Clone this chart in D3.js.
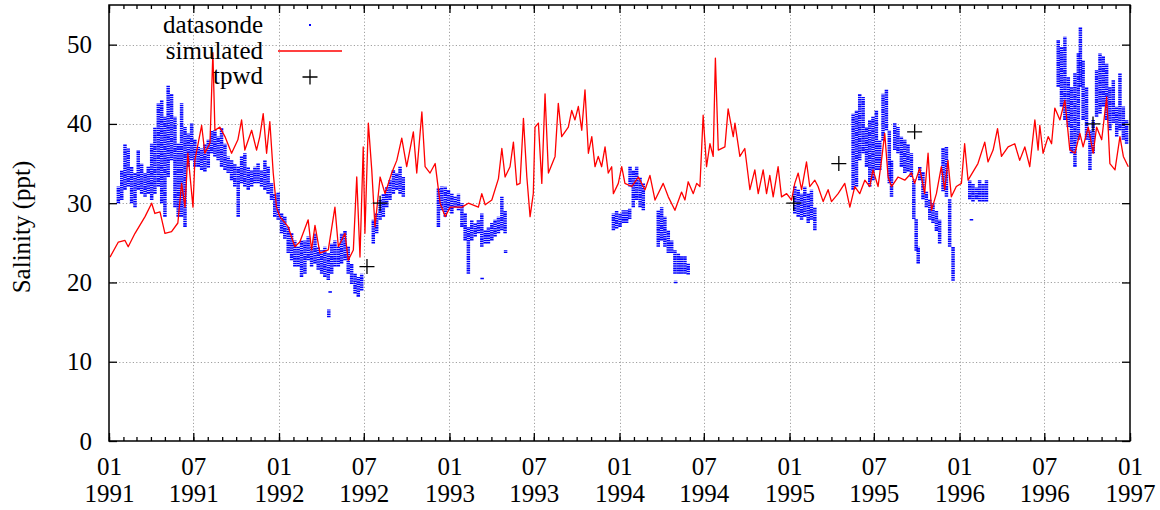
<!DOCTYPE html>
<html>
<head>
<meta charset="utf-8">
<script src="https://cdn.jsdelivr.net/npm/d3@7"></script>
<style>
  html, body { margin: 0; padding: 0; background: #fff; }
  svg text { font-family: "Liberation Serif", "Times New Roman", serif; }
</style>
</head>
<body>
<svg id="chart" width="1160" height="510"></svg>
<script>
// Salinity record 1991-1996. Times are decimal years.

// Simulated salinity (model output)
const simTime = [
  1991.006,1991.055,1991.094,1991.113,1991.153,1991.212,1991.251,1991.270,1991.300,1991.329,
  1991.368,1991.405,1991.427,1991.447,1991.464,1991.494,1991.505,1991.545,1991.564,1991.594,
  1991.611,1991.623,1991.652,1991.682,1991.721,1991.758,1991.780,1991.799,1991.839,1991.868,
  1991.887,1991.907,1991.927,1991.946,1991.966,1991.985,1992.005,1992.054,1992.093,1992.122,
  1992.171,1992.191,1992.211,1992.240,1992.289,1992.328,1992.348,1992.387,1992.406,1992.436,
  1992.456,1992.475,1992.494,1992.504,1992.524,1992.544,1992.563,1992.593,1992.622,1992.661,
  1992.691,1992.720,1992.749,1992.788,1992.808,1992.838,1992.857,1992.886,1992.916,1992.945,
  1992.975,1993.004,1993.073,1993.111,1993.170,1993.190,1993.210,1993.249,1993.288,1993.308,
  1993.327,1993.356,1993.376,1993.396,1993.415,1993.435,1993.455,1993.474,1993.493,1993.503,
  1993.523,1993.543,1993.562,1993.582,1993.621,1993.640,1993.660,1993.699,1993.719,1993.738,
  1993.758,1993.778,1993.797,1993.817,1993.837,1993.856,1993.875,1993.895,1993.915,1993.934,
  1993.954,1993.964,1993.993,1994.013,1994.032,1994.072,1994.111,1994.150,1994.179,1994.209,
  1994.257,1994.287,1994.326,1994.365,1994.385,1994.404,1994.434,1994.454,1994.473,1994.492,
  1994.512,1994.532,1994.551,1994.564,1994.581,1994.620,1994.639,1994.669,1994.679,1994.708,
  1994.737,1994.767,1994.796,1994.816,1994.845,1994.865,1994.884,1994.904,1994.933,1994.953,
  1994.983,1995.012,1995.031,1995.051,1995.071,1995.100,1995.119,1995.149,1995.168,1995.198,
  1995.227,1995.247,1995.286,1995.325,1995.355,1995.384,1995.413,1995.443,1995.472,1995.491,
  1995.521,1995.541,1995.560,1995.580,1995.600,1995.638,1995.678,1995.717,1995.736,1995.766,
  1995.795,1995.815,1995.835,1995.864,1995.893,1995.913,1995.932,1995.952,1995.981,1996.011,
  1996.030,1996.050,1996.108,1996.148,1996.167,1996.197,1996.223,1996.246,1996.285,1996.324,
  1996.353,1996.383,1996.412,1996.442,1996.461,1996.471,1996.490,1996.520,1996.540,1996.559,
  1996.589,1996.618,1996.647,1996.677,1996.706,1996.725,1996.755,1996.784,1996.804,1996.834,
  1996.863,1996.882,1996.912,1996.941,1996.961,1996.990
];
const simSalinity = [
  23.2,25.1,25.3,24.5,26.2,28.3,30.0,28.7,28.9,26.2,
  26.4,27.5,32.5,29.5,36.3,29.5,35.4,39.8,36.3,37.6,
  49.0,39.2,39.6,38.4,36.3,38.0,40.5,36.7,39.2,36.7,
  38.4,41.3,36.3,40.3,33.8,29.5,28.3,27.0,24.5,25.1,
  27.9,24.1,27.2,23.7,24.1,29.5,24.5,26.2,22.8,24.1,
  33.3,23.2,37.1,26.2,40.1,34.2,27.0,33.3,31.2,33.8,
  35.4,38.2,34.6,39.0,33.8,41.5,34.6,33.8,35.0,30.0,
  28.3,29.5,29.5,30.0,29.5,31.2,29.8,30.4,33.1,36.9,
  33.3,34.6,37.7,32.3,32.5,40.7,33.3,28.3,31.2,39.6,
  40.1,32.5,43.8,33.8,35.9,42.6,38.4,39.6,41.7,40.5,
  42.2,39.2,44.3,36.3,38.4,34.6,35.9,34.6,37.1,33.8,
  34.6,31.2,32.5,34.6,32.5,32.1,33.3,31.7,33.5,30.4,
  32.5,30.8,29.1,31.4,30.4,32.7,31.2,32.5,32.1,41.1,
  34.6,37.5,35.9,48.3,36.7,37.1,41.9,38.4,40.1,35.9,
  36.9,31.7,34.2,31.2,34.2,31.2,33.5,30.8,34.6,30.8,
  31.2,30.4,32.5,33.8,31.7,35.2,32.1,32.9,32.1,30.2,
  31.7,30.2,31.2,32.5,29.5,32.1,31.2,32.9,32.1,34.2,
  32.1,35.4,38.8,33.3,32.1,33.3,32.9,33.8,32.5,34.4,
  31.2,36.3,29.1,31.2,34.6,31.7,35.4,30.8,32.1,32.5,
  37.5,32.9,35.0,37.7,35.2,36.7,39.4,35.9,37.1,37.5,
  35.4,37.1,34.6,40.5,36.7,39.8,36.3,38.4,37.5,42.0,
  40.5,43.0,36.7,36.3,38.8,37.1,39.6,36.3,39.6,38.0,
  43.4,35.0,34.2,38.4,35.9,34.6
];

// Datasonde readings, as the low and high of each short reading window
const sondeTime = [
  1991.055,1991.075,1991.094,1991.113,1991.133,1991.153,1991.172,1991.192,1991.212,1991.231,
  1991.251,1991.270,1991.290,1991.310,1991.329,1991.348,1991.368,1991.388,1991.407,1991.427,
  1991.447,1991.466,1991.486,1991.505,1991.525,1991.545,1991.564,1991.584,1991.604,1991.623,
  1991.642,1991.662,1991.682,1991.701,1991.721,1991.740,1991.760,1991.780,1991.799,1991.819,
  1991.839,1991.858,1991.877,1991.897,1991.917,1991.936,1991.956,1991.975,1991.995,1992.015,
  1992.034,1992.054,1992.074,1992.093,1992.112,1992.132,1992.152,1992.171,1992.191,1992.211,
  1992.230,1992.250,1992.269,1992.289,1992.292,1992.300,1992.309,1992.328,1992.348,1992.367,
  1992.387,1992.406,1992.426,1992.446,1992.465,1992.485,1992.553,1992.573,1992.593,1992.612,
  1992.632,1992.651,1992.671,1992.691,1992.710,1992.729,1992.935,1992.955,1992.975,1992.994,
  1993.014,1993.033,1993.053,1993.073,1993.092,1993.111,1993.131,1993.151,1993.170,1993.190,
  1993.192,1993.210,1993.229,1993.249,1993.268,1993.288,1993.308,1993.327,1993.330,1993.964,
  1993.983,1994.003,1994.022,1994.042,1994.060,1994.062,1994.081,1994.101,1994.121,1994.140,
  1994.228,1994.248,1994.267,1994.287,1994.307,1994.326,1994.330,1994.346,1994.365,1994.385,
  1994.404,1995.031,1995.051,1995.071,1995.090,1995.110,1995.129,1995.149,1995.374,1995.394,
  1995.413,1995.433,1995.453,1995.472,1995.491,1995.511,1995.531,1995.550,1995.570,1995.587,
  1995.600,1995.619,1995.638,1995.658,1995.678,1995.697,1995.717,1995.731,1995.745,1995.757,
  1995.766,1995.785,1995.805,1995.825,1995.844,1995.864,1995.883,1995.903,1995.923,1995.942,
  1995.962,1996.060,1996.070,1996.079,1996.099,1996.118,1996.138,1996.158,1996.579,1996.598,
  1996.618,1996.638,1996.657,1996.677,1996.697,1996.709,1996.725,1996.745,1996.765,1996.784,
  1996.804,1996.824,1996.843,1996.863,1996.882,1996.902,1996.922,1996.941,1996.961,1996.980
];
const sondeLow = [
  30.0,30.4,31.7,32.1,30.0,29.5,31.7,31.2,30.8,31.2,
  30.4,31.2,32.1,30.0,28.3,33.3,35.4,29.5,28.3,28.3,
  27.0,34.6,35.4,34.6,34.6,34.2,34.0,34.5,36.3,35.9,
  35.4,34.6,34.2,33.8,32.9,32.1,28.3,32.5,32.1,31.7,
  32.1,32.5,32.5,32.1,31.7,31.2,30.4,28.3,27.9,26.2,
  25.5,23.7,22.8,22.0,22.0,20.7,21.1,22.8,22.0,22.4,
  21.6,21.1,20.7,20.3,15.6,18.7,21.1,22.0,22.0,22.4,
  22.8,21.1,19.8,18.6,18.2,19.0,24.9,26.2,27.9,28.3,
  29.5,30.4,31.2,31.7,31.2,30.8,27.0,29.1,28.3,29.1,
  28.7,29.5,29.1,27.0,25.3,21.1,25.3,25.8,26.2,24.5,
  20.4,24.9,24.9,25.3,25.8,26.2,26.6,26.2,23.7,26.6,
  26.8,27.0,27.5,27.5,28.0,32.1,29.5,30.4,29.5,29.1,
  24.5,25.3,24.5,23.7,23.7,21.1,19.9,21.1,21.1,21.1,
  21.0,28.7,28.3,27.9,28.3,27.5,27.9,26.6,31.7,32.1,
  35.4,36.3,34.6,32.1,32.9,34.2,34.2,37.9,39.2,32.5,
  30.8,36.7,36.3,34.6,33.8,34.0,33.3,28.0,24.0,22.4,
  32.9,30.5,29.5,27.9,27.5,26.5,24.9,31.5,30.8,24.5,
  20.2,30.5,27.8,30.2,30.5,30.2,30.2,30.2,44.7,42.2,
  40.5,39.6,36.3,34.6,38.0,44.7,40.5,38.0,34.2,36.3,
  40.9,41.3,42.2,40.5,39.2,40.1,38.4,39.2,38.0,37.5
];
const sondeHigh = [
  32.1,34.2,37.5,36.9,34.6,33.8,36.7,35.0,33.8,34.6,
  37.5,39.6,42.6,43.0,40.9,44.9,43.8,40.9,37.5,42.6,
  39.6,38.8,40.1,38.0,37.1,36.9,37.5,38.0,39.2,39.2,
  38.4,39.5,37.5,35.9,35.4,35.0,34.6,35.9,36.3,34.6,
  34.2,34.6,35.0,34.2,35.4,34.6,32.5,31.2,31.4,28.7,
  28.3,27.0,26.2,25.3,24.5,25.3,25.3,25.8,24.5,26.2,
  24.5,24.1,24.5,23.7,16.6,18.9,24.9,25.3,24.5,26.2,
  26.6,24.5,22.4,21.1,20.7,21.1,27.9,28.7,30.4,31.2,
  32.1,32.9,34.2,33.8,34.6,33.3,31.9,32.1,32.1,31.7,
  31.2,30.8,31.2,30.0,28.7,27.0,27.9,27.5,27.9,28.7,
  20.7,26.6,27.0,27.5,27.9,28.3,30.8,29.1,24.1,28.7,
  29.0,28.7,29.1,29.1,29.3,34.6,34.2,34.6,33.3,32.5,
  29.1,29.5,28.3,26.6,25.3,24.1,20.2,23.7,23.3,23.3,
  22.4,32.1,31.7,31.2,32.1,31.2,31.7,29.5,41.3,41.7,
  43.8,43.4,39.6,40.5,40.9,41.7,37.9,43.8,44.3,39.2,
  35.4,40.1,39.6,38.4,38.0,37.5,36.3,33.0,28.0,24.5,
  34.6,34.0,31.5,30.5,30.0,29.1,27.9,37.0,37.1,30.5,
  24.5,32.9,28.1,32.5,32.0,32.9,32.5,32.9,50.6,49.7,
  51.0,45.9,44.7,46.4,48.9,52.2,48.0,44.7,39.2,40.5,
  46.8,48.9,48.5,47.6,44.7,45.5,42.2,46.4,42.2,40.5
];

// TPWD grab samples
const tpwdTime = [1992.516, 1992.593, 1995.025, 1995.290, 1995.736, 1996.783];
const tpwdSalinity = [22.0, 30.0, 30.0, 35.0, 39.0, 40.0];

// Axis ticks
const yTicks = [0, 10, 20, 30, 40, 50];
const xTickDates = ["1991-01","1991-07","1992-01","1992-07","1993-01","1993-07","1994-01",
                    "1994-07","1995-01","1995-07","1996-01","1996-07","1997-01"];

const legendLabels = ["datasonde", "simulated", "tpwd"];

function yearToDate(t) {
  const yr = Math.floor(t);
  const a = Date.UTC(yr, 0, 1), b = Date.UTC(yr + 1, 0, 1);
  return new Date(a + (t - yr) * (b - a));
}
const parseMonth = d3.utcParse("%Y-%m");
const majorDates = xTickDates.map(parseMonth);

const plotLeft = 109, plotRight = 1130, plotTop = 5, plotBottom = 441;
const FONT = 25;

const x = d3.scaleUtc().domain([majorDates[0], majorDates[majorDates.length - 1]]).range([plotLeft, plotRight]);
const y = d3.scaleLinear().domain([0, 55]).range([plotBottom, plotTop]);

const svg = d3.select("#chart");

// grid
const grid = svg.append("g").attr("stroke", "#a0a0a0").attr("stroke-width", 1)
  .attr("stroke-dasharray", "1.2,2.2");
grid.selectAll("line.v").data(majorDates.slice(1, -1)).join("line")
  .attr("x1", d => Math.round(x(d)) + 0.5).attr("x2", d => Math.round(x(d)) + 0.5)
  .attr("y1", plotBottom).attr("y2", plotTop);
grid.selectAll("line.h").data(yTicks.filter(v => v > 0)).join("line")
  .attr("y1", d => Math.round(y(d)) + 0.5).attr("y2", d => Math.round(y(d)) + 0.5)
  .attr("x1", plotLeft).attr("x2", plotRight);

// datasonde readings: each reading window is a speckled column
svg.append("g").attr("stroke", "#0000ff").attr("stroke-width", 3.5)
  .attr("stroke-dasharray", "1.6,0.7")
  .selectAll("line").data(sondeTime.map((t, i) => i)).join("line")
  .attr("x1", i => x(yearToDate(sondeTime[i])))
  .attr("x2", i => x(yearToDate(sondeTime[i])))
  .attr("y1", i => y(sondeLow[i]))
  .attr("y2", i => y(sondeHigh[i]));

// simulated series
const line = d3.line()
  .x(i => x(yearToDate(simTime[i])))
  .y(i => y(simSalinity[i]));
svg.append("path").datum(simTime.map((t, i) => i))
  .attr("fill", "none").attr("stroke", "#ff0000").attr("stroke-width", 1.3)
  .attr("stroke-linejoin", "round").attr("d", line);

// tpwd samples
const plus = "M-7.5,0H7.5M0,-7.5V7.5";
svg.append("g").attr("stroke", "#000").attr("stroke-width", 1.3).attr("fill", "none")
  .selectAll("path").data(tpwdTime.map((t, i) => i)).join("path")
  .attr("transform", i => `translate(${x(yearToDate(tpwdTime[i]))},${y(tpwdSalinity[i])})`)
  .attr("d", plus);

// axes
function styleAxis(g) {
  g.attr("font-family", null).attr("font-size", null);
  g.select(".domain").remove();
  g.selectAll(".tick line").attr("stroke", "#000").attr("stroke-width", 1.3);
  g.selectAll(".tick text").attr("fill", "#000").style("font-size", FONT + "px");
}

// minor monthly ticks (bottom & top)
svg.append("g").attr("transform", `translate(0,${plotBottom})`)
  .call(d3.axisBottom(x).ticks(d3.utcMonth.every(1)).tickSizeInner(-4).tickSizeOuter(0).tickFormat(() => ""))
  .call(styleAxis);
svg.append("g").attr("transform", `translate(0,${plotTop})`)
  .call(d3.axisTop(x).ticks(d3.utcMonth.every(1)).tickSizeInner(-4).tickSizeOuter(0).tickFormat(() => ""))
  .call(styleAxis);

// major ticks with two-line labels
const fmtM = d3.utcFormat("%m"), fmtY = d3.utcFormat("%Y");
svg.append("g").attr("transform", `translate(0,${plotBottom})`)
  .call(d3.axisBottom(x).tickValues(majorDates).tickSizeInner(-8).tickSizeOuter(0).tickFormat(fmtM))
  .call(styleAxis)
  .call(g => g.selectAll(".tick text").each(function (d) {
    const t = d3.select(this);
    t.text(null).attr("dy", null).attr("y", null);
    t.append("tspan").attr("x", 0).attr("y", 34).text(fmtM(d));
    t.append("tspan").attr("x", 0).attr("y", 61).text(fmtY(d));
  }));
svg.append("g").attr("transform", `translate(0,${plotTop})`)
  .call(d3.axisTop(x).tickValues(majorDates).tickSizeInner(-8).tickSizeOuter(0).tickFormat(() => ""))
  .call(styleAxis);

svg.append("g").attr("transform", `translate(${plotLeft},0)`)
  .call(d3.axisLeft(y).tickValues(yTicks).tickSizeInner(-8).tickSizeOuter(0).tickPadding(17))
  .call(styleAxis);
svg.append("g").attr("transform", `translate(${plotRight},0)`)
  .call(d3.axisRight(y).tickValues(yTicks).tickSizeInner(-8).tickSizeOuter(0).tickFormat(() => ""))
  .call(styleAxis);

// frame
svg.append("rect").attr("x", plotLeft).attr("y", plotTop)
  .attr("width", plotRight - plotLeft).attr("height", plotBottom - plotTop)
  .attr("fill", "none").attr("stroke", "#000").attr("stroke-width", 1.5);

// y-axis title
svg.append("text")
  .attr("transform", `translate(30,227) rotate(-90)`)
  .attr("text-anchor", "middle").style("font-size", FONT + "px")
  .text("Salinity (ppt)");

// legend
const leg = svg.append("g");
leg.selectAll("text").data(legendLabels).join("text")
  .attr("x", 263).attr("y", (d, i) => 33 + i * 25.7)
  .attr("text-anchor", "end").style("font-size", FONT + "px")
  .text(d => d);
leg.append("rect").attr("x", 309).attr("y", 24).attr("width", 2).attr("height", 2).attr("fill", "#0000ff");
leg.append("line").attr("x1", 278).attr("x2", 342).attr("y1", 51).attr("y2", 51)
  .attr("stroke", "#ff0000").attr("stroke-width", 1.3);
leg.append("path").attr("transform", "translate(310,77)").attr("d", plus)
  .attr("stroke", "#000").attr("stroke-width", 1.3).attr("fill", "none");
</script>
</body>
</html>
